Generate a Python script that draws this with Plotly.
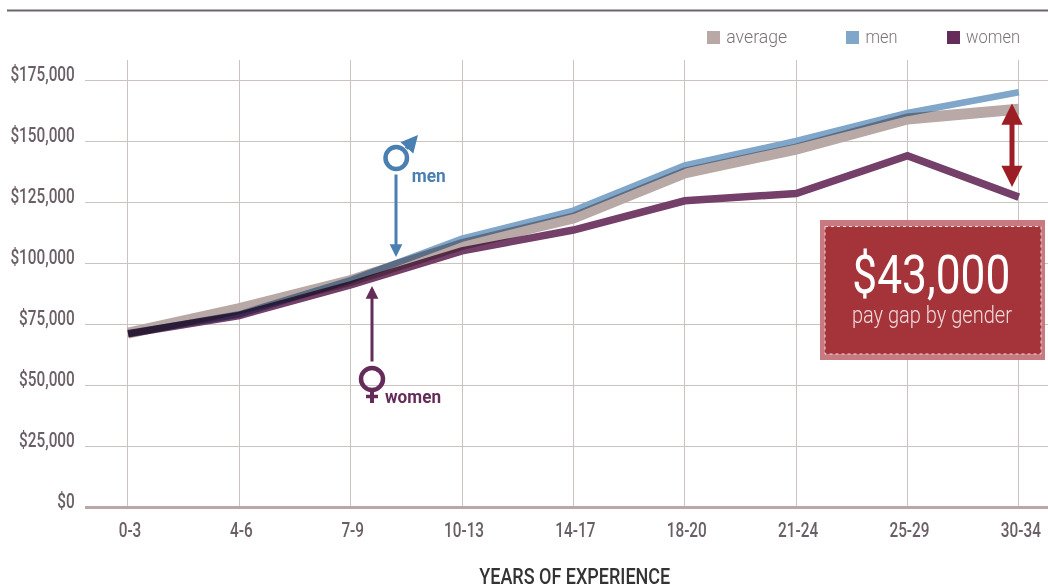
import json
import plotly.graph_objects as go

# Salary by years of experience
categories = ["0-3", "4-6", "7-9", "10-13", "14-17", "18-20", "21-24", "25-29", "30-34"]
average = [71300, 81300, 92800, 107600, 118400, 136900, 146700, 159000, 163000]
men = [71000, 79000, 93000, 110000, 121500, 140000, 150000, 161500, 170000]
women = [71000, 78500, 91000, 105000, 113500, 125500, 128500, 144000, 127000]
y_ticks = [0, 25000, 50000, 75000, 100000, 125000, 150000, 175000]
y_labels = ["$0", "$25,000", "$50,000", "$75,000", "$100,000", "$125,000", "$150,000", "$175,000"]

W, H = 1048, 588
L, R, T, B = 85, 0, 60, 81
FONT = "Roboto"
TEXT = "#6a5f66"
GRID = "#cdc2c2"
AVG = "#b8a8a6"
MEN = "#80a6ca"
WOMEN = "#743f69"
MEN_DARK = "#4a7fb2"
WOMEN_DARK = "#652c59"
RED = "#9c1d24"

# Rendered widths for the condensed display lettering
text_widths = {
    "$43,000": 158, "pay gap by gender": 160, "average": 61, "men": 32, "women": 54,
    "YEARS OF EXPERIENCE": 191,
}
bold_widths = {"men": 34, "women": 56}


def px(x):
    return (x - L) / (W - L - R)


def py(y):
    return (H - B - y) / (H - T - B)


fig = go.Figure()
for name, values, color, width in [("average", average, AVG, 11), ("men", men, MEN, 6.5), ("women", women, WOMEN, 7.5)]:
    fig.add_trace(go.Scatter(x=categories, y=values, name=name, mode="lines",
                             line=dict(color=color, width=width), showlegend=False))


def rect(x0, y0, x1, y1, **kw):
    return dict(type="rect", xref="paper", yref="paper", x0=px(x0), x1=px(x1), y0=py(y0), y1=py(y1), **kw)


def seg(x0, y0, x1, y1, color, width):
    return dict(type="line", xref="paper", yref="paper", x0=px(x0), x1=px(x1), y0=py(y0), y1=py(y1),
                line=dict(color=color, width=width), layer="above")


shapes = [
    # top rule
    seg(7, 10.5, 1048, 10.5, "#6e6370", 2),
    # callout panel
    rect(820, 220, 1045, 360, fillcolor="#c4747a", line_width=0, opacity=0.95, layer="above"),
    rect(825, 226.5, 1041, 354, fillcolor="#a33238", line=dict(color="#f3dfe0", width=1, dash="dot"),
         opacity=0.96, layer="above"),
    # male symbol ring
    dict(type="circle", xref="paper", yref="paper", x0=px(385.5), x1=px(407), y0=py(147), y1=py(169),
         line=dict(color=MEN_DARK, width=4.5), layer="above"),
    # female symbol
    dict(type="circle", xref="paper", yref="paper", x0=px(361), x1=px(383), y0=py(368), y1=py(390),
         line=dict(color=WOMEN_DARK, width=4.5), layer="above"),
    seg(372, 391, 372, 403, WOMEN_DARK, 4),
    seg(366, 396.5, 378, 396.5, WOMEN_DARK, 3.5),
]

annotations = []


def label(x, y, text, size, color, weight=None):
    annotations.append(dict(xref="paper", yref="paper", x=px(x), y=py(y), text=text, showarrow=False,
                            xanchor="center", yanchor="middle",
                            font=dict(family=FONT, size=size, color=color, weight=weight)))


def arrow(x0, y0, x1, y1, color, width, side="end", size=1.0):
    annotations.append(dict(xref="paper", yref="paper", axref="pixel", ayref="pixel",
                            x=px(x1), y=py(y1), ax=x0 - x1, ay=y0 - y1, text="",
                            showarrow=True, arrowhead=2, arrowside=side, arrowsize=size,
                            arrowwidth=width, arrowcolor=color))


# legend
for x, color, name, cx in [(707, AVG, "average", 756.5), (846, MEN, "men", 881), (947, WOMEN_DARK, "women", 993)]:
    shapes.append(rect(x, 31, x + 13, 44, fillcolor=color, line_width=0))
    label(cx, 36, name, 19, "#7d7379", weight=300)

# callouts on the lines
arrow(396, 173, 396, 257, MEN_DARK, 3, size=0.85)
arrow(405, 150, 418, 135, MEN_DARK, 4, size=0.85)
arrow(372, 363, 372, 286, WOMEN_DARK, 3, size=0.85)
label(428, 175, "men", 19, MEN_DARK, weight=700)
label(413, 396, "women", 19, WOMEN_DARK, weight=700)

# pay gap
arrow(1012, 102, 1012, 187, RED, 5, side="end+start", size=0.85)
label(931.5, 274, "$43,000", 54, "#ffffff")
label(932, 315, "pay gap by gender", 23, "#f1d9da", weight=300)

# horizontal axis caption, set off-centre under the plot
label(574.5, 576.5, "YEARS OF EXPERIENCE", 22, "#333333", weight=500)

fig.update_layout(
    width=W, height=H, autosize=False,
    margin=dict(l=L, r=R, t=T, b=B, autoexpand=False),
    paper_bgcolor="white", plot_bgcolor="white",
    shapes=shapes, annotations=annotations,
    xaxis=dict(type="category", categoryorder="array", categoryarray=categories, automargin=False,
               range=[-0.386, 8.262], showgrid=True, gridcolor=GRID, gridwidth=1,
               showline=False, zeroline=False, ticks="outside", ticklen=4, tickcolor="rgba(0,0,0,0)",
               ticklabelshift=2,
               tickfont=dict(family=FONT, size=21, color=TEXT, weight=500)),
    yaxis=dict(range=[0, 183197], tickvals=y_ticks, ticktext=y_labels, automargin=False,
               showgrid=True, gridcolor=GRID, gridwidth=1, zeroline=True, zerolinecolor=AVG, zerolinewidth=3,
               showline=False, ticks="outside", ticklen=5, tickcolor="rgba(0,0,0,0)",
               ticklabelshift=-6,
               tickfont=dict(family=FONT, size=21, color=TEXT, weight=500)),
)

# Overlapping series darken one another; lettering is narrowed to a condensed set width
post = """
document.querySelectorAll('.scatterlayer .trace').forEach(function(t){t.style.mixBlendMode='multiply';});
var widths = %s, boldWidths = %s;
document.querySelectorAll('svg text').forEach(function(t){
  var s = t.textContent, w = t.getComputedTextLength();
  if (!s || !w) return;
  var bold = parseInt(t.style.fontWeight) >= 600;
  var target = (bold && boldWidths[s]) || widths[s] || w * 0.73;
  t.setAttribute('textLength', target);
  t.setAttribute('lengthAdjust', 'spacingAndGlyphs');
});
""" % (json.dumps(text_widths), json.dumps(bold_widths))
fig.write_html("out.html", post_script=post, config={"displayModeBar": False})
